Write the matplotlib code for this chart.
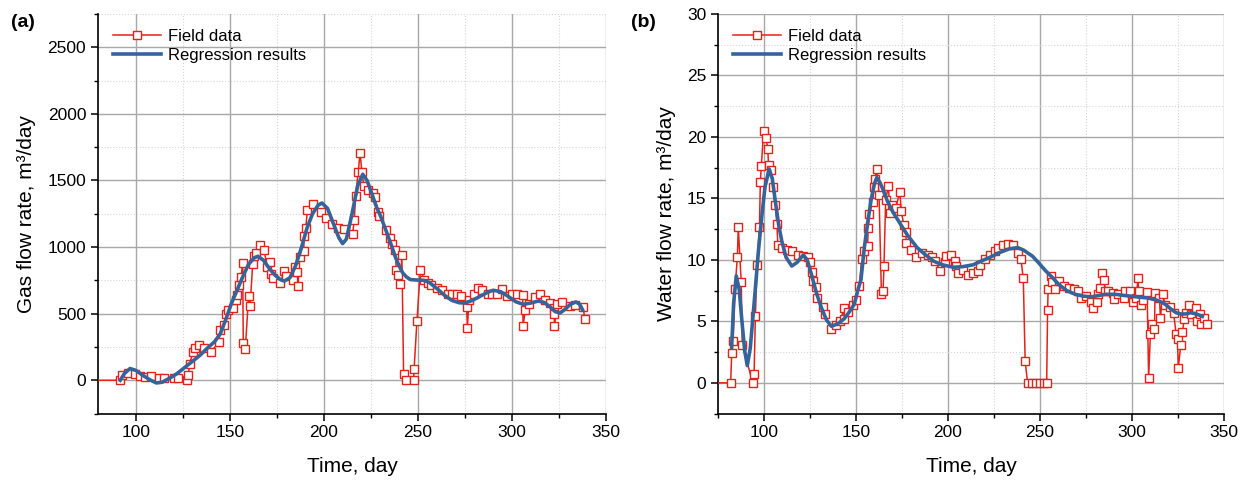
import matplotlib.pyplot as plt
from matplotlib.ticker import MultipleLocator

plt.rcParams['font.family'] = ['Liberation Sans', 'DejaVu Sans']

# ---- (a) gas: field data
gas_day = [60, 91.8, 92.7, 95.9, 99.5, 102.5, 105.2, 108.4, 112.3, 115, 120.3, 122.6,
           127.4, 128, 128.7, 130.5, 131.6, 133.7, 136.4, 139.9, 144.4, 144.7, 147, 148,
           149.3, 151.9, 153.3, 154, 155, 156, 156.9, 157.2, 158.3, 160, 160.8, 162.2,
           163, 164, 166.1, 168.4, 169.7, 171.5, 172, 172.9, 176.8, 179.1, 180, 183.6,
           184.5, 185.5, 186.3, 187.2, 189.3, 189.5, 190.4, 191.3, 194.3, 198.4, 201,
           204.1, 207.6, 210.7, 215.3, 216.2, 216.9, 218.3, 219.3, 220.2, 221.4, 223.7,
           226.4, 227, 229, 229.6, 233.2, 235.3, 236.2, 238, 238.5, 239.2, 240.6, 241.5,
           242.4, 243.9, 247.7, 248, 249.5, 251.3, 253.5, 255.2, 257, 260.2, 262.9,
           265.9, 268.2, 270.6, 272.7, 275.9, 276.3, 277.2, 279.8, 281.7, 284.3, 287,
           289.5, 292, 294.5, 297.3, 299.9, 302.5, 305.7, 305.9, 307.1, 309.3, 312,
           315.1, 317.3, 320, 322.3, 322.4, 322.6, 324, 326.5, 331.1, 333.7, 337.8, 338.7]
gas_field = [0, 0, 37, 55, 50, 35, 25, 30, 20, 20, 15, 15,
             5, 37, 125, 212, 245, 268, 245, 212, 288, 380, 413, 500,
             530, 545, 605, 638, 713, 775, 880, 280, 235, 630, 555, 870,
             930, 955, 1015, 975, 850, 890, 800, 770, 730, 820, 780, 750,
             850, 813, 710, 925, 968, 1080, 1145, 1275, 1325, 1265, 1215,
             1175, 1145, 1135, 1095, 1205, 1385, 1565, 1710, 1565, 1455, 1425,
             1405, 1376, 1265, 1231, 1126, 1070, 1020, 976, 830, 788, 720, 938,
             50, 0, 0, 88, 445, 826, 756, 730, 713, 695, 676,
             646, 646, 646, 630, 550, 396, 605, 650, 693, 680, 646,
             646, 650, 683, 630, 646, 646, 638, 405, 530, 575, 625,
             646, 605, 580, 545, 495, 408, 570, 588, 555, 563, 550, 463]

# ---- (a) gas: regression
gas_fit_day = [91.8, 94, 97, 100, 104, 108, 111, 114, 118, 122, 126, 130, 134, 138, 142,
               145, 148, 151, 154, 157, 160, 163, 165, 168, 171, 174, 177, 179, 182, 185,
               188, 191, 194, 197, 199, 202, 205, 208, 210, 212, 215, 218, 220.7, 223,
               225.5, 228, 230, 233, 236, 238, 240, 242, 244, 246, 250, 253, 256, 260,
               264, 268, 272, 275, 279, 283, 287, 290, 294, 298, 302, 306, 310, 314, 317,
               320, 323, 325.5, 328, 331, 334, 336, 337.5]
gas_fit = [0, 50, 88, 75, 35, 0, -20, -15, 15, 50, 95, 140, 185, 240, 290,
           350, 460, 580, 680, 780, 870, 920, 931, 900, 840, 790, 755, 745, 770, 860,
           990, 1140, 1250, 1315, 1331, 1290, 1180, 1070, 1026, 1060, 1250, 1460, 1547, 1500,
           1402, 1300, 1239, 1126, 1010, 926, 860, 805, 775, 756, 752, 751, 735, 690,
           640, 600, 582, 580, 600, 630, 660, 676, 665, 630, 590, 570, 580, 595, 585,
           555, 515, 505, 530, 570, 588, 570, 530]

# ---- (b) water: field data
wat_day = [60, 81.9, 82.4, 83.2, 84.2, 85.5, 86, 87.6, 88.2, 93.9, 94.6, 95.3, 96.2,
           97.5, 98, 98.5, 99.8, 101.2, 102, 102.5, 103.9, 104.8, 106.1, 107, 107.5,
           110, 112.7, 115.4, 118.7, 121.2, 123.7, 124.9, 125.8, 126.7, 128, 128.9,
           132.1, 133, 136.2, 139.2, 141.5, 143.4, 143.5, 145.5, 148.2, 150, 151.8,
           153.1, 154.5, 156.3, 156.6, 157.2, 159, 159.8, 160.2, 161.3, 162.5, 163.8,
           164.7, 165.2, 166.1, 167.6, 168.4, 169.7, 171.5, 173.8, 174.6, 176, 176.9,
           177.4, 180, 182.8, 185.9, 188.9, 191.2, 193, 195.7, 198.4, 198.9, 201.4,
           203.8, 204.3, 205.6, 208.2, 210.9, 213.6, 216.3, 217.2, 219.9, 222.6, 225.3,
           227.1, 229.7, 232.4, 235.5, 237.8, 239.6, 240.9, 241.9, 243.2, 245.5, 247.7,
           249.8, 251.9, 253.6, 254.1, 254.4, 256.2, 256.6, 258.1, 260.2, 262.9, 265.6,
           268.3, 270.6, 272.4, 274.9, 277.8, 279, 280.8, 281.7, 282.6, 283.9, 285,
           285.3, 287.1, 289.8, 290.3, 292.5, 295.7, 296.1, 298.8, 300.5, 302.3, 303.2,
           303.6, 304.7, 305.9, 308.2, 309, 310, 310.8, 312.2, 312.5, 314.9, 315.4,
           316.7, 317.9, 320.8, 322.6, 323.9, 324.7, 325.1, 326.5, 327.4, 328.3, 329.2,
           331, 331.9, 334.6, 335.1, 336.9, 337.6, 339.1, 340.5]
wat_field = [0, 0, 2.4, 3.4, 7.6, 10.2, 12.7, 8.2, 3.1, 0, 0.7, 5.4, 9.6,
             12.7, 16.3, 17.6, 20.5, 19.9, 19.0, 17.7, 17.3, 15.9, 14.5, 12.9, 11.2,
             11.0, 10.8, 10.7, 10.4, 10.3, 10.2, 9.8, 9.0, 8.3, 7.8, 6.9,
             6.2, 5.6, 4.4, 4.7, 5.0, 6.1, 5.2, 5.8, 6.3, 6.7, 7.9,
             10.1, 10.7, 11.1, 12.6, 13.7, 14.7, 15.9, 16.6, 17.4, 15.3, 7.2,
             7.5, 9.5, 14.9, 16.0, 13.8, 14.5, 14.2, 15.5, 14.0, 12.8, 12.3,
             11.4, 10.8, 10.2, 10.6, 10.4, 10.2, 9.9, 9.1, 9.8, 10.3, 10.4,
             9.9, 9.5, 8.9, 9.2, 8.8, 8.9, 9.1, 9.6, 10.1, 10.4, 10.7,
             11.0, 11.2, 11.3, 11.2, 10.6, 10.1, 8.5, 1.8, 0, 0, 0,
             0, 0, 0, 5.9, 7.6, 8.7, 8.2, 7.6, 8.3, 7.9, 7.7,
             7.6, 7.5, 6.9, 7.1, 6.6, 6.1, 6.6, 7.2, 7.7, 8.9, 8.4,
             7.5, 7.5, 7.3, 6.8, 7.2, 6.9, 7.5, 7.5, 6.6, 6.9, 8.5,
             7.5, 6.3, 6.7, 7.4, 0.4, 4.0, 4.8, 4.4, 7.3, 6.9, 5.3,
             7.2, 6.3, 6.2, 5.7, 4.0, 3.6, 1.2, 3.1, 4.1, 5.2, 5.7,
             6.3, 5.6, 6.1, 5.0, 5.6, 4.8, 5.3, 4.8]

# ---- (b) water: regression
wat_fit_day = [82.4, 83.5, 84.9, 86.5, 88, 89.5, 90.9, 92.5, 94, 95.3, 97, 98.9, 100.5,
               102.8, 104.5, 106.1, 108, 109.7, 112, 115.1, 118, 121.3, 123.5, 125.8,
               128.5, 131.2, 134, 136.6, 140, 143.5, 146, 149.1, 150.9, 152.7, 154.5,
               156.5, 158.1, 160, 161.3, 163, 165, 167, 170, 174.2, 178, 183.2, 187,
               192.1, 197, 202.9, 208, 213.6, 218, 222.6, 228, 233.3, 237.8, 241,
               245.9, 249, 253.1, 256.5, 260.2, 264.5, 269.2, 273.5, 278.1, 285.3,
               291, 296.1, 302, 308.6, 314, 318, 321.1, 324, 326.5, 329, 331.9, 335,
               338.2]
wat_fit = [2.9, 6.5, 8.7, 7.6, 5.0, 2.6, 1.4, 2.8, 5.4, 7.7, 10.8, 13.7, 15.9,
           17.4, 16.6, 14.8, 12.8, 11.5, 10.2, 9.5, 9.8, 10.4, 10.0, 8.8,
           7.3, 6.1, 5.1, 4.6, 4.8, 5.2, 5.7, 6.4, 7.5, 8.4, 11.0,
           13.2, 14.8, 16.2, 16.7, 16.3, 15.6, 14.8, 13.9, 12.9, 12.0, 11.0, 10.5,
           9.9, 9.6, 9.4, 9.45, 9.6, 9.9, 10.2, 10.6, 10.9, 11.0, 10.8,
           10.3, 9.8, 9.1, 8.6, 8.0, 7.5, 7.2, 7.05, 7.0, 7.2,
           7.2, 7.1, 7.0, 6.9, 6.7, 6.4, 6.0, 5.7, 5.6, 5.6, 5.7, 5.6,
           5.4]

red = '#e2231a'
blue = '#35649a'

fig = plt.figure(figsize=(12.47, 4.9), dpi=100)
ax1 = fig.add_axes([0.0786, 0.156, 0.4074, 0.8154])
ax2 = fig.add_axes([0.5758, 0.156, 0.4058, 0.8154])

panels = [
    (ax1, gas_day, gas_field, gas_fit_day, gas_fit, (80, 350), (-250, 2750), 500, 250,
     'Gas flow rate, m³/day', '(a)'),
    (ax2, wat_day, wat_field, wat_fit_day, wat_fit, (75, 350), (-2.5, 30), 5, 2.5,
     'Water flow rate, m³/day', '(b)'),
]

for ax, xd, yd, xf, yf, xl, yl, ymaj, ymin, ylab, tag in panels:
    ax.plot(xd, yd, color=red, lw=1.1, marker='s', ms=5.2, mfc='white',
            mec=red, mew=1.0, label='Field data', zorder=3)
    ax.plot(xf, yf, color=blue, lw=2.6, label='Regression results', zorder=4)
    ax.set_xlim(*xl)
    ax.set_ylim(*yl)
    ax.xaxis.set_major_locator(MultipleLocator(50))
    ax.xaxis.set_minor_locator(MultipleLocator(25))
    ax.yaxis.set_major_locator(MultipleLocator(ymaj))
    ax.yaxis.set_minor_locator(MultipleLocator(ymin))
    ax.grid(which='major', color='#a8a8a8', lw=1.0)
    ax.grid(which='minor', color='#d6d6d6', lw=0.8, ls=':')
    ax.set_axisbelow(True)
    for s in ['top', 'right']:
        ax.spines[s].set_visible(False)
    for s in ['left', 'bottom']:
        ax.spines[s].set_linewidth(1.2)
    ax.tick_params(which='major', direction='out', length=5, width=1.1, labelsize=12.5)
    ax.tick_params(which='minor', direction='out', length=3, width=1.0)
    ax.set_xlabel('Time, day', fontsize=15, labelpad=12)
    ax.set_ylabel(ylab, fontsize=15, labelpad=8)
    ax.legend(loc='upper left', bbox_to_anchor=(0.0, 1.0), frameon=False, fontsize=12,
              handlelength=2.9, handletextpad=0.4, labelspacing=0.25, borderaxespad=0.5)
    pos = ax.get_position()
    fig.text(pos.x0 - 0.07, 0.955, tag, fontsize=14, fontweight='bold', va='center')

fig.savefig('out.png', dpi=100)
